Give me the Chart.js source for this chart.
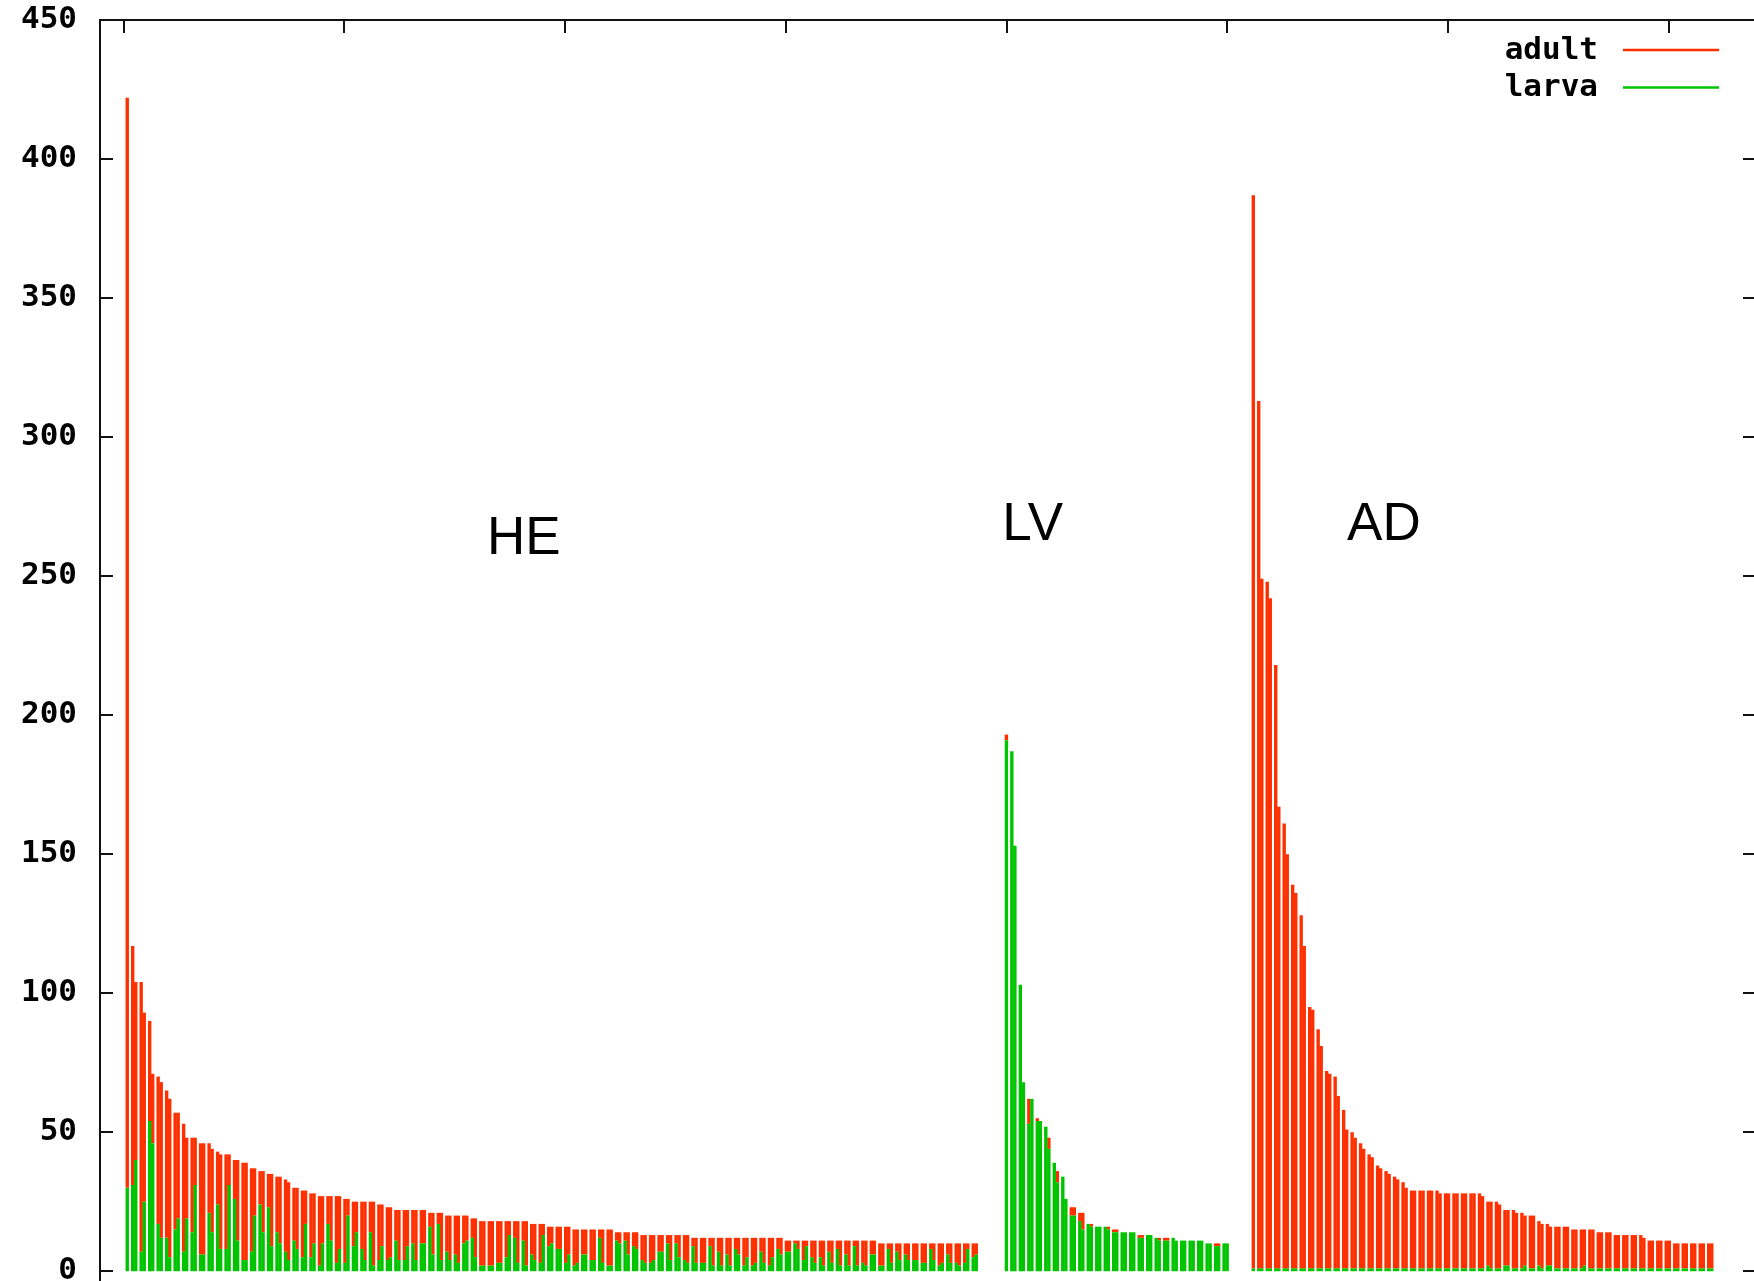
<!DOCTYPE html>
<html>
<head>
<meta charset="utf-8">
<title>adult / larva</title>
<script src="https://cdn.jsdelivr.net/npm/chart.js@4/dist/chart.umd.min.js"></script>
<style>
  html, body { margin: 0; padding: 0; overflow: hidden; background: #fff; }
  canvas { display: block; }
</style>
</head>
<body>
<canvas id="expressionChart" width="1770" height="1310"></canvas>
<script>
// reads per gene, sorted within each group; larva stacked under adult.
// the first gene of a group stands alone, the rest are drawn two per slot
const heLarva = [30,
    31, 40, 7, 25, 54, 46, 17, 12, 12, 5, 15, 19, 7, 19, 14, 31, 6, 6, 21, 14,
    24, 8, 8, 31, 26, 11, 4, 4, 7, 20, 24, 14, 23, 9, 14, 10, 7, 4, 11, 8,
    5, 17, 5, 10, 2, 10, 17, 11, 3, 8, 3, 20, 9, 14, 8, 4, 14, 2, 4, 9,
    4, 5, 11, 4, 4, 9, 10, 4, 10, 10, 16, 6, 17, 4, 7, 4, 6, 3, 10, 11,
    12, 5, 2, 2, 2, 2, 3, 3, 5, 13, 12, 3, 11, 2, 6, 4, 3, 13, 9, 10,
    8, 8, 3, 6, 2, 3, 6, 6, 4, 4, 12, 3, 2, 2, 11, 10, 11, 6, 9, 8,
    4, 3, 3, 4, 7, 7, 10, 4, 10, 5, 4, 3, 9, 3, 3, 3, 9, 2, 7, 2,
    6, 2, 8, 6, 2, 5, 2, 3, 7, 3, 2, 5, 8, 6, 7, 7, 10, 8, 4, 9,
    5, 3, 5, 2, 7, 3, 8, 2, 6, 2, 9, 2, 3, 2, 6, 6, 2, 2, 8, 3,
    7, 4, 6, 4, 4, 4, 3, 3, 8, 4, 2, 3, 6, 3, 3, 2, 3, 8, 5, 6];
const heAdult = [392,
    86, 64, 97, 68, 36, 25, 53, 56, 53, 57, 42, 38, 46, 29, 34, 17, 40, 40, 25, 30,
    19, 34, 34, 11, 14, 29, 35, 35, 30, 17, 12, 22, 12, 26, 20, 24, 26, 28, 19, 22,
    24, 12, 23, 18, 25, 17, 10, 16, 24, 19, 23, 6, 16, 11, 17, 21, 11, 23, 20, 15,
    19, 18, 11, 18, 18, 13, 12, 18, 12, 12, 5, 15, 4, 17, 13, 16, 14, 17, 10, 9,
    7, 14, 16, 16, 16, 16, 15, 15, 13, 5, 6, 15, 7, 16, 11, 13, 14, 4, 7, 6,
    8, 8, 13, 10, 13, 12, 9, 9, 11, 11, 3, 12, 13, 13, 3, 4, 3, 8, 5, 6,
    9, 10, 10, 9, 6, 6, 3, 9, 3, 8, 9, 10, 3, 9, 9, 9, 3, 10, 5, 10,
    6, 10, 4, 6, 10, 7, 10, 9, 5, 9, 10, 7, 4, 6, 4, 4, 1, 3, 7, 2,
    6, 8, 6, 9, 4, 8, 3, 9, 5, 9, 2, 9, 8, 9, 5, 5, 8, 8, 2, 7,
    3, 6, 4, 6, 6, 6, 7, 7, 2, 6, 8, 7, 4, 7, 7, 8, 7, 2, 5, 4];

const lvLarva = [191,
    187, 153, 103, 68, 53, 62, 54, 54, 52, 44, 39, 32, 34, 26, 20, 20, 18, 15, 17, 16,
    16, 16, 16, 15, 14, 14, 14, 14, 14, 14, 12, 12, 13, 13, 12, 11, 11, 11, 12, 11,
    11, 11, 11, 11, 11, 11, 10, 10, 9, 9, 10, 10];
const lvAdult = [2,
    0, 0, 0, 0, 9, 0, 1, 0, 0, 4, 0, 4, 0, 0, 3, 3, 3, 6, 0, 1,
    0, 0, 0, 1, 1, 1, 0, 0, 0, 0, 1, 1, 0, 0, 0, 1, 1, 1, 0, 0,
    0, 0, 0, 0, 0, 0, 0, 0, 1, 1, 0, 0];

const adLarva = [1,
    1, 1, 1, 1, 1, 1, 1, 1, 1, 1, 1, 1, 1, 1, 1, 1, 1, 1, 1, 1,
    1, 1, 1, 1, 1, 1, 1, 1, 1, 1, 1, 1, 1, 1, 1, 1, 1, 1, 1, 1,
    1, 1, 1, 1, 1, 1, 1, 1, 1, 1, 1, 1, 1, 1, 2, 1, 1, 1, 2, 2,
    1, 1, 1, 2, 1, 1, 2, 1, 2, 2, 1, 1, 1, 1, 1, 1, 1, 2, 1, 1,
    1, 1, 1, 1, 1, 1, 1, 1, 1, 1, 1, 1, 1, 1, 1, 1, 1, 1, 1, 1,
    1, 1, 1, 1, 1, 1, 1, 1];
const adAdult = [386,
    312, 248, 247, 241, 217, 166, 160, 149, 138, 135, 127, 116, 94, 93, 86, 80, 71, 70, 69, 62,
    57, 50, 49, 47, 45, 43, 41, 40, 37, 36, 35, 34, 33, 32, 31, 29, 28, 28, 28, 28,
    28, 28, 28, 27, 27, 27, 27, 27, 27, 27, 27, 27, 27, 26, 23, 24, 24, 23, 20, 20,
    21, 20, 20, 18, 19, 19, 16, 16, 15, 14, 15, 15, 15, 15, 14, 14, 14, 13, 14, 14,
    13, 13, 13, 13, 12, 12, 12, 12, 12, 12, 12, 11, 10, 10, 10, 10, 10, 10, 9, 9,
    9, 9, 9, 9, 9, 9, 9, 9];

// where each group begins on the x axis
const groups = [
    { name: 'HE', start: 0.25, larva: heLarva, adult: heAdult },
    { name: 'LV', start: 103.8, larva: lvLarva, adult: lvAdult },
    { name: 'AD', start: 132.88, larva: adLarva, adult: adAdult }
];

const yTicks = [0, 50, 100, 150, 200, 250, 300, 350, 400, 450];
const xTicks = [0, 26, 52, 78, 104, 130, 156, 182];

// group captions, placed in axis units
const captions = [
    { text: 'HE', x: 42.8, y: 258 },
    { text: 'LV', x: 103.5, y: 263 },
    { text: 'AD', x: 144.1, y: 263 }
];

const adultColor = '#ff3000';
const larvaColor = '#00c400';
const monoFont = '"DejaVu Sans Mono", "Liberation Mono", monospace';

// slot p holds genes 2p-1 and 2p side by side, gene 0 sits alone in slot 0
function slotX(start, i) {
    return start + Math.ceil(i / 2) + (i % 2 ? -0.18 : 0.18);
}

function toPoints(key) {
    const pts = [];
    groups.forEach(g => {
        g[key].forEach((v, i) => pts.push({ x: slotX(g.start, i), y: v }));
    });
    return pts;
}

// gnuplot style frame: border, inward ticks, captions and a line legend
const framePlugin = {
    id: 'frame',
    afterDraw(chart) {
        const { ctx, chartArea: area, scales } = chart;
        const xs = scales.x, ys = scales.y;
        const tick = 13;
        ctx.save();
        ctx.strokeStyle = '#111';
        ctx.lineWidth = 2;
        ctx.beginPath();
        ctx.moveTo(area.left, area.bottom);
        ctx.lineTo(area.left, area.top);
        ctx.lineTo(area.right, area.top);
        ctx.lineTo(area.right, area.bottom);
        yTicks.forEach(v => {
            const py = Math.round(ys.getPixelForValue(v));
            ctx.moveTo(area.left, py);
            ctx.lineTo(area.left + tick, py);
            ctx.moveTo(area.right - tick, py);
            ctx.lineTo(area.right, py);
        });
        xTicks.forEach(u => {
            const px = Math.round(xs.getPixelForValue(u));
            ctx.moveTo(px, area.top);
            ctx.lineTo(px, area.top + tick);
        });
        ctx.stroke();

        ctx.fillStyle = '#000';
        ctx.font = '53px "Liberation Sans", Arial, sans-serif';
        ctx.textAlign = 'left';
        ctx.textBaseline = 'alphabetic';
        captions.forEach(c => {
            ctx.fillText(c.text, xs.getPixelForValue(c.x), ys.getPixelForValue(c.y));
        });

        // legend, top right
        const entries = [['adult', adultColor], ['larva', larvaColor]];
        ctx.font = 'bold 31px ' + monoFont;
        ctx.textAlign = 'right';
        ctx.textBaseline = 'middle';
        entries.forEach(([label, color], i) => {
            const ly = 50 + i * 37.4;
            ctx.fillStyle = '#000';
            ctx.fillText(label, 1598, ly + 1);
            ctx.strokeStyle = color;
            ctx.lineWidth = 2.5;
            ctx.beginPath();
            ctx.moveTo(1623, ly);
            ctx.lineTo(1719, ly);
            ctx.stroke();
        });
        ctx.restore();
    }
};

document.addEventListener('DOMContentLoaded', () => {
    const chartCtx = document.getElementById('expressionChart');

    new Chart(chartCtx.getContext('2d'), {
        type: 'bar',
        data: {
            datasets: [
                {
                    label: 'larva',
                    data: toPoints('larva'),
                    backgroundColor: larvaColor,
                    borderWidth: 0
                },
                {
                    label: 'adult',
                    data: toPoints('adult'),
                    backgroundColor: adultColor,
                    borderWidth: 0
                }
            ]
        },
        options: {
            responsive: false,
            animation: false,
            events: [],
            // the two genes of a slot touch, slots are split by a thin gap
            categoryPercentage: 1,
            barPercentage: 1.11,
            layout: {
                autoPadding: false,
                padding: { top: 20, right: 14, bottom: 11, left: 0 }
            },
            plugins: {
                legend: { display: false },
                tooltip: { enabled: false }
            },
            scales: {
                x: {
                    type: 'linear',
                    display: false,
                    offset: false,
                    stacked: true,
                    min: -2.78,
                    max: 192.27
                },
                y: {
                    stacked: true,
                    min: -10,
                    max: 450,
                    afterBuildTicks: scale => {
                        scale.ticks = yTicks.map(v => ({ value: v }));
                    },
                    afterFit: scale => {
                        // labels must not push the plot area inwards
                        scale.width = 100;
                        scale.paddingTop = 0;
                        scale.paddingBottom = 0;
                    },
                    grid: { display: false, drawTicks: false },
                    border: { display: false },
                    ticks: {
                        padding: 23,
                        color: '#000',
                        font: { family: monoFont, weight: 'bold', size: 31 }
                    }
                }
            }
        },
        plugins: [framePlugin]
    });
});
</script>
</body>
</html>
